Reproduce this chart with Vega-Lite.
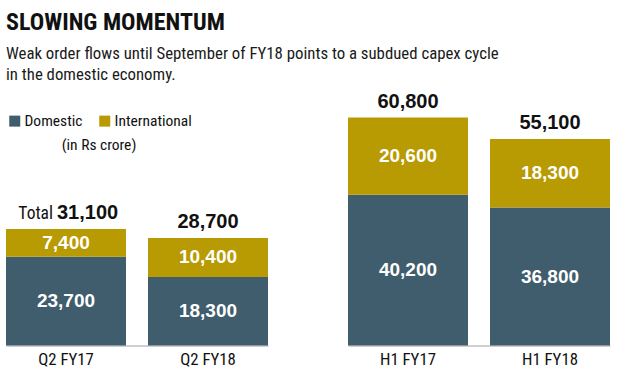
{
  "$schema": "https://vega.github.io/schema/vega-lite/v6.json",
  "padding": {"left": 6, "right": 5, "top": 10, "bottom": 5},
  "background": "#ffffff",
  "title": {
    "text": "SLOWING MOMENTUM",
    "subtitle": ["Weak order flows until September of FY18 points to a subdued capex cycle", "in the domestic economy."],
    "anchor": "start",
    "font": "Roboto Condensed, Liberation Sans Narrow, DejaVu Sans Condensed, sans-serif",
    "fontSize": 24,
    "fontWeight": "bold",
    "color": "#111111",
    "subtitleFont": "Roboto Condensed, Liberation Sans Narrow, DejaVu Sans Condensed, sans-serif",
    "subtitleFontSize": 16.8,
    "subtitleLineHeight": 21,
    "subtitleColor": "#1a1a1a",
    "subtitlePadding": 11,
    "offset": 8
  },
  "data": {
    "values": [
      {"period": "Q2 FY17", "group": "Quarter", "Domestic": 23700, "International": 7400, "Total": 31100, "prefix": "Total"},
      {"period": "Q2 FY18", "group": "Quarter", "Domestic": 18300, "International": 10400, "Total": 28700},
      {"period": "H1 FY17", "group": "Half year", "Domestic": 40200, "International": 20600, "Total": 60800},
      {"period": "H1 FY18", "group": "Half year", "Domestic": 36800, "International": 18300, "Total": 55100}
    ]
  },
  "facet": {"column": {"field": "group", "type": "nominal", "sort": ["Quarter", "Half year"], "header": null}},
  "spacing": 80,
  "resolve": {"scale": {"x": "independent"}},
  "spec": {
    "width": 262,
    "height": 247.5,
    "resolve": {"scale": {"y": "independent"}},
    "layer": [
      {
        "mark": {"type": "bar"},
        "encoding": {
          "x": {"field": "period", "type": "nominal", "sort": null, "scale": {"paddingInner": 0.155, "paddingOuter": 0}, "axis": {"title": null, "ticks": false, "labelAngle": 0, "labelPadding": 6, "labelFontSize": 16.8, "labelFont": "Roboto Condensed, Liberation Sans Narrow, DejaVu Sans Condensed, sans-serif", "labelColor": "#111111", "domainColor": "#a0a0a0", "domainWidth": 1}},
          "y": {"field": "Domestic", "type": "quantitative", "scale": {"domain": [0, 66000], "nice": false}, "axis": null},
          "color": {
            "datum": "Domestic", "type": "nominal",
            "scale": {"domain": ["Domestic", "International"], "range": ["#3f5d6d", "#b89a02"]},
            "legend": {
              "orient": "none", "legendX": 1, "legendY": 15, "direction": "horizontal",
              "title": "(in Rs crore)", "titleOrient": "bottom", "titleAnchor": "middle",
              "titleFontSize": 15.5, "titleFontWeight": "normal", "titleColor": "#111111",
              "titleFont": "Roboto Condensed, Liberation Sans Narrow, DejaVu Sans Condensed, sans-serif",
              "titlePadding": 8,
              "labelFontSize": 15.5, "labelColor": "#111111",
              "labelFont": "Roboto Condensed, Liberation Sans Narrow, DejaVu Sans Condensed, sans-serif",
              "symbolType": "square", "symbolSize": 121, "symbolStrokeWidth": 0, "symbolOpacity": 1,
              "labelOffset": 2, "columnPadding": 14
            }
          }
        }
      },
      {
        "mark": {"type": "bar"},
        "encoding": {
          "x": {"field": "period", "type": "nominal", "sort": null},
          "y": {"field": "Domestic", "type": "quantitative", "scale": {"domain": [0, 66000], "nice": false}, "axis": null},
          "y2": {"field": "Total"},
          "color": {"datum": "International", "type": "nominal"}
        }
      },
      {
        "mark": {"type": "text", "color": "#ffffff", "fontWeight": "bold", "fontSize": 19, "font": "Liberation Sans, Arial, sans-serif", "baseline": "middle", "align": "center"},
        "encoding": {
          "x": {"field": "period", "type": "nominal", "sort": null},
          "y": {"field": "Domestic", "type": "quantitative", "scale": {"domain": [0, 132000], "nice": false}, "axis": null},
          "text": {"field": "Domestic", "type": "quantitative", "format": ","}
        }
      },
      {
        "transform": [{"fold": ["Domestic", "Total"], "as": ["part", "level"]}],
        "mark": {"type": "text", "color": "#ffffff", "fontWeight": "bold", "fontSize": 19, "font": "Liberation Sans, Arial, sans-serif", "baseline": "middle", "align": "center"},
        "encoding": {
          "x": {"field": "period", "type": "nominal", "sort": null},
          "detail": {"field": "group", "type": "nominal"},
          "y": {"aggregate": "sum", "field": "level", "type": "quantitative", "scale": {"domain": [0, 132000], "nice": false}, "axis": null},
          "text": {"aggregate": "max", "field": "International", "type": "quantitative", "format": ","}
        }
      },
      {
        "transform": [{"filter": "!datum.prefix"}],
        "mark": {"type": "text", "color": "#111111", "fontWeight": "bold", "fontSize": 20, "font": "Liberation Sans, Arial, sans-serif", "baseline": "alphabetic", "align": "center", "dy": -10},
        "encoding": {
          "x": {"field": "period", "type": "nominal", "sort": null},
          "y": {"field": "Total", "type": "quantitative", "scale": {"domain": [0, 66000], "nice": false}, "axis": null},
          "text": {"field": "Total", "type": "quantitative", "format": ","}
        }
      },
      {
        "transform": [{"filter": "datum.prefix"}],
        "mark": {"type": "text", "color": "#111111", "fontWeight": "bold", "fontSize": 20, "font": "Liberation Sans, Arial, sans-serif", "baseline": "alphabetic", "align": "left", "dx": -9, "dy": -10},
        "encoding": {
          "x": {"field": "period", "type": "nominal", "sort": null},
          "y": {"field": "Total", "type": "quantitative", "scale": {"domain": [0, 66000], "nice": false}, "axis": null},
          "text": {"field": "Total", "type": "quantitative", "format": ","}
        }
      },
      {
        "transform": [{"filter": "datum.prefix"}],
        "mark": {"type": "text", "color": "#111111", "fontWeight": "normal", "fontSize": 17.5, "font": "Roboto Condensed, Liberation Sans Narrow, DejaVu Sans Condensed, sans-serif", "baseline": "alphabetic", "align": "right", "dx": -13, "dy": -10},
        "encoding": {
          "x": {"field": "period", "type": "nominal", "sort": null},
          "y": {"field": "Total", "type": "quantitative", "scale": {"domain": [0, 66000], "nice": false}, "axis": null},
          "text": {"field": "prefix", "type": "nominal"}
        }
      }
    ]
  },
  "config": {"view": {"stroke": null}}
}
